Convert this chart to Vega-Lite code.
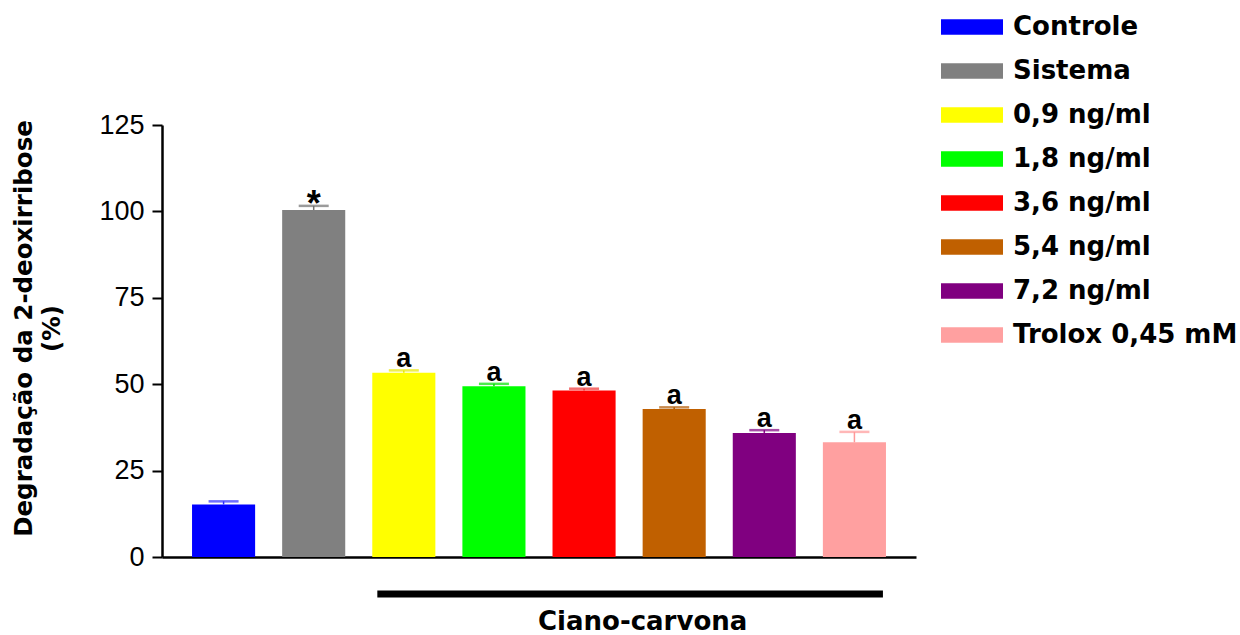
{
  "$schema": "https://vega.github.io/schema/vega-lite/v6.json",
  "width": 754,
  "height": 432,
  "autosize": "none",
  "padding": {"left": 162, "top": 125, "right": 324, "bottom": 78},
  "background": "white",
  "config": {"view": {"stroke": null}},
  "datasets": {
    "bars": [
      {"grupo": "Controle", "media": 15.2, "epm": 0.9, "sig": ""},
      {"grupo": "Sistema", "media": 100.4, "epm": 1.2, "sig": "*"},
      {"grupo": "0,9 ng/ml", "media": 53.3, "epm": 0.7, "sig": "a"},
      {"grupo": "1,8 ng/ml", "media": 49.4, "epm": 0.7, "sig": "a"},
      {"grupo": "3,6 ng/ml", "media": 48.2, "epm": 0.5, "sig": "a"},
      {"grupo": "5,4 ng/ml", "media": 42.8, "epm": 0.5, "sig": "a"},
      {"grupo": "7,2 ng/ml", "media": 35.9, "epm": 0.8, "sig": "a"},
      {"grupo": "Trolox 0,45 mM", "media": 33.2, "epm": 3.0, "sig": "a"}
    ],
    "grupoTratado": [
      {"inicio": "0,9 ng/ml", "fim": "Trolox 0,45 mM", "meio": "5,4 ng/ml", "nome": "Ciano-carvona"}
    ]
  },
  "encoding": {
    "x": {
      "field": "grupo",
      "type": "nominal",
      "scale": {
        "domain": ["Controle", "Sistema", "0,9 ng/ml", "1,8 ng/ml", "3,6 ng/ml", "5,4 ng/ml", "7,2 ng/ml", "Trolox 0,45 mM"],
        "paddingInner": 0.3,
        "paddingOuter": 0.3333
      },
      "axis": {
        "title": null,
        "labels": false,
        "ticks": false,
        "domainColor": "black",
        "domainWidth": 2.5
      }
    }
  },
  "layer": [
    {
      "data": {"name": "bars"},
      "mark": {"type": "bar"},
      "encoding": {
        "y": {
          "field": "media",
          "type": "quantitative",
          "scale": {"domain": [0, 125], "nice": false, "zero": true},
          "axis": {
            "values": [0, 25, 50, 75, 100, 125],
            "grid": false,
            "title": ["Degradação da 2-deoxirribose", "(%)"],
            "titleFont": "DejaVu Sans",
            "titleFontWeight": "bold",
            "titleFontSize": 24.5,
            "titleColor": "black",
            "titleLineHeight": 28,
            "titlePadding": 34,
            "titleY": 203,
            "labelFont": "Liberation Sans",
            "labelFontSize": 27,
            "labelColor": "black",
            "labelPadding": 8,
            "tickSize": 10,
            "tickWidth": 2,
            "tickColor": "black",
            "domainColor": "black",
            "domainWidth": 2.5
          }
        },
        "color": {
          "field": "grupo",
          "type": "nominal",
          "scale": {
            "domain": ["Controle", "Sistema", "0,9 ng/ml", "1,8 ng/ml", "3,6 ng/ml", "5,4 ng/ml", "7,2 ng/ml", "Trolox 0,45 mM"],
            "range": ["#0000FF", "#808080", "#FFFF00", "#00FF00", "#FF0000", "#C06000", "#800080", "#FFA0A0"]
          },
          "legend": {
            "orient": "none",
            "legendX": 794.5,
            "legendY": -113.5,
            "title": null,
            "padding": 0,
            "symbolType": "M-2,-0.5H2V0.5H-2Z",
            "symbolSize": 961,
            "symbolStrokeWidth": 0,
            "symbolOpacity": 1,
            "labelFont": "DejaVu Sans",
            "labelFontWeight": "bold",
            "labelFontSize": 26,
            "labelColor": "black",
            "labelOffset": 25.5,
            "labelLimit": 400,
            "rowPadding": 15
          }
        }
      }
    },
    {
      "data": {"name": "bars"},
      "transform": [{"calculate": "datum.media + datum.epm", "as": "topo"}],
      "mark": {"type": "rule", "strokeWidth": 1.5},
      "encoding": {
        "y": {"field": "media", "type": "quantitative"},
        "y2": {"field": "topo"},
        "stroke": {
          "field": "grupo",
          "type": "nominal",
          "scale": {
            "domain": ["Controle", "Sistema", "0,9 ng/ml", "1,8 ng/ml", "3,6 ng/ml", "5,4 ng/ml", "7,2 ng/ml", "Trolox 0,45 mM"],
            "range": ["#3030FF", "#707070", "#E8E800", "#00E000", "#F03030", "#B05800", "#800080", "#FF9898"]
          },
          "legend": null
        }
      }
    },
    {
      "data": {"name": "bars"},
      "transform": [{"calculate": "datum.media + datum.epm", "as": "topo"}],
      "mark": {"type": "tick", "size": 30, "thickness": 2.5},
      "encoding": {
        "y": {"field": "topo", "type": "quantitative"},
        "fill": {
          "field": "grupo",
          "type": "nominal",
          "scale": {
            "domain": ["Controle", "Sistema", "0,9 ng/ml", "1,8 ng/ml", "3,6 ng/ml", "5,4 ng/ml", "7,2 ng/ml", "Trolox 0,45 mM"],
            "range": ["#3030FF", "#707070", "#E8E800", "#00E000", "#F03030", "#B05800", "#800080", "#FF9898"]
          },
          "legend": null
        }
      }
    },
    {
      "data": {"name": "bars"},
      "transform": [
        {"filter": "datum.sig == 'a'"},
        {"calculate": "datum.media + datum.epm", "as": "topo"}
      ],
      "mark": {"type": "text", "font": "Liberation Sans", "fontWeight": "bold", "fontSize": 27, "baseline": "alphabetic", "dy": -3, "color": "black"},
      "encoding": {
        "y": {"field": "topo", "type": "quantitative"},
        "text": {"field": "sig"}
      }
    },
    {
      "data": {"name": "bars"},
      "transform": [
        {"filter": "datum.sig == '*'"},
        {"calculate": "datum.media + datum.epm", "as": "topo"}
      ],
      "mark": {"type": "text", "font": "Liberation Sans", "fontWeight": "bold", "fontSize": 36, "baseline": "alphabetic", "dy": 10, "color": "black"},
      "encoding": {
        "y": {"field": "topo", "type": "quantitative"},
        "text": {"field": "sig"}
      }
    },
    {
      "data": {"name": "grupoTratado"},
      "mark": {"type": "rule", "strokeWidth": 7, "color": "black"},
      "encoding": {
        "x": {"field": "inicio", "type": "nominal", "bandPosition": 0.08},
        "x2": {"field": "fim", "bandPosition": 0.952},
        "y": {"datum": -10.7}
      }
    },
    {
      "data": {"name": "grupoTratado"},
      "mark": {"type": "text", "font": "DejaVu Sans", "fontWeight": "bold", "fontSize": 26, "baseline": "alphabetic", "align": "center", "color": "black"},
      "encoding": {
        "x": {"field": "meio", "type": "nominal", "bandPosition": 0},
        "y": {"datum": -21.2},
        "text": {"field": "nome"}
      }
    }
  ]
}
